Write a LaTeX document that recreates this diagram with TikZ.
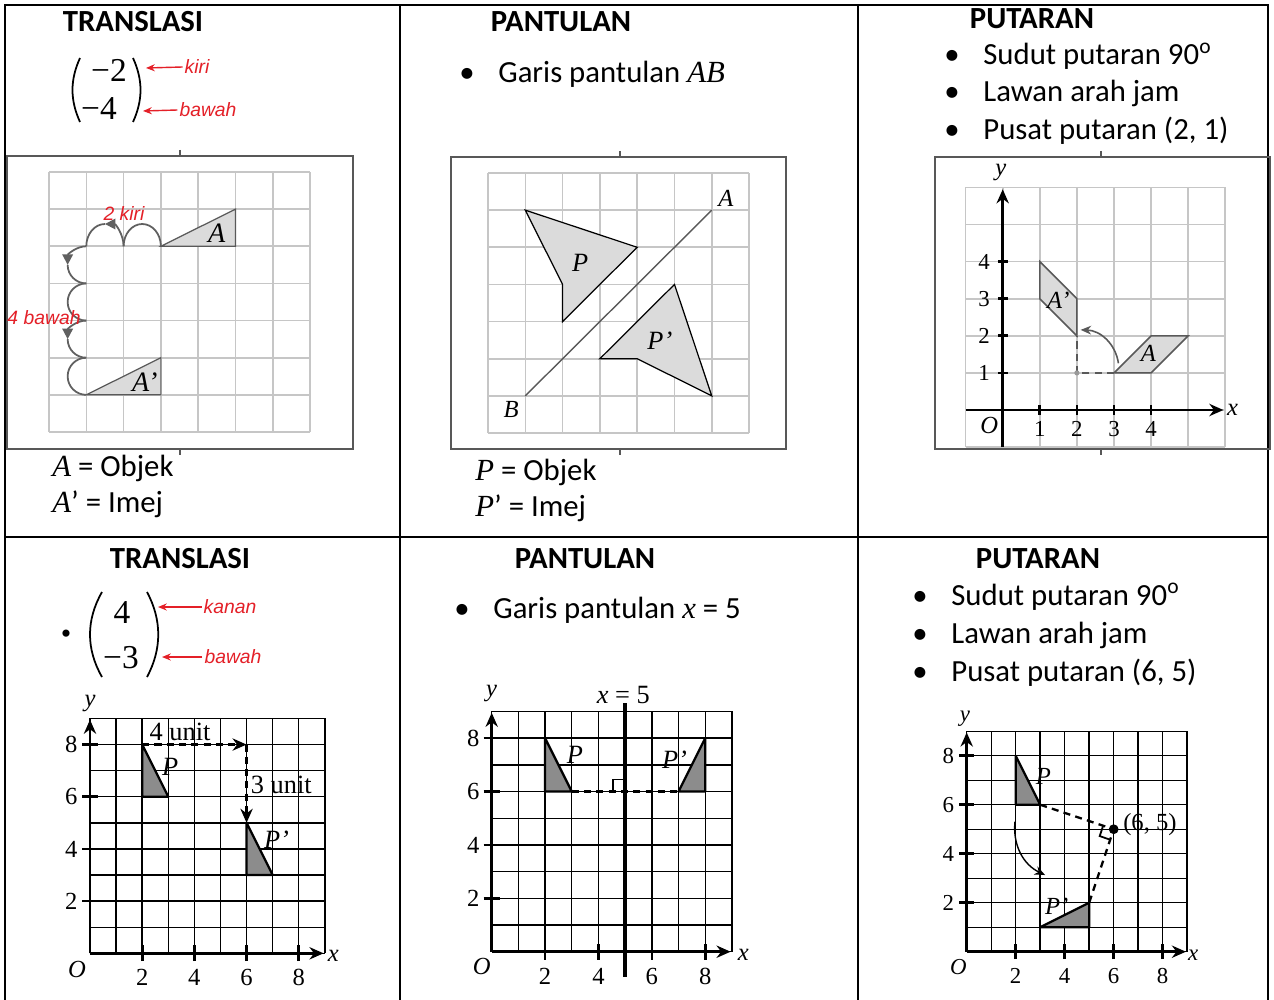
\documentclass[tikz,border=0pt]{standalone}
\usepackage{fontspec}
\setmainfont{Carlito}
\newfontfamily\serifmath{Liberation Serif}
\newfontfamily\handink{Liberation Sans}
\usepackage{tikz}
\usetikzlibrary{positioning, arrows.meta}
\definecolor{inkred}{RGB}{228,32,40}
\definecolor{boxgray}{RGB}{88,88,88}
\newcommand{\sym}[1]{{\serifmath\itshape #1}}

\begin{document}
\begin{tikzpicture}[
    x=0.02cm, y=-0.02cm,
    cell/.style={draw=black, line width=1.1pt},
    head/.style={font=\fontsize{17.5}{20}\selectfont\bfseries, anchor=base, inner sep=0pt},
    txt/.style={font=\fontsize{17.5}{20}\selectfont, anchor=base west, inner sep=0pt},
    bul/.style={font=\fontsize{17.5}{20}\selectfont, anchor=base, inner sep=0pt},
    mnum/.style={font=\fontsize{19}{22}\selectfont\serifmath, anchor=base, inner sep=0pt},
    paren/.style={draw=black, line width=1pt},
    hand/.style={font=\fontsize{11}{13}\selectfont\handink\itshape, text=inkred, inner sep=1pt},
    inkarrow/.style={draw=inkred, line width=0.8pt, -{Stealth[length=5pt, width=4pt]}},
    imgbox/.style={draw=boxgray, line width=1.4pt},
    lgrid/.style={draw=gray!45, line width=0.9pt, step=1},
    dgrid/.style={draw=black, line width=0.8pt, step=1},
    lshape/.style={fill=gray!28, draw=black, line width=0.7pt},
    rshape/.style={fill=gray!28, draw=gray!70!black, line width=0.9pt},
    dshape/.style={fill=gray!90, draw=black, line width=1.3pt, line join=round},
    hop/.style={draw=gray!75!black, line width=1pt},
    hoptip/.style={hop, -{Triangle[length=6pt, width=6pt]}},
    axline/.style={draw=black, line width=1.5pt, -{Stealth[length=8pt, width=7pt]}},
    tickmk/.style={draw=black, line width=1.5pt},
    nlbl/.style={font=\fontsize{#1}{#1}\selectfont\serifmath, inner sep=0pt},
    nlbl/.default=13,
    glbl/.style={font=\fontsize{#1}{#1}\selectfont\serifmath\itshape, inner sep=0pt},
    glbl/.default=14,
    dline/.style={line width=1.3pt, dash pattern=on 4pt off 3pt},
    dasharr/.style={dline, -{Stealth[length=8pt, width=7pt]}}
]
\useasboundingbox (0,0) rectangle (1274,1000);
\fill[white] (0,0) rectangle (1274,1000);

% table
\draw[cell] (5,1000) -- (5,5) -- (1268,5) -- (1268,1000);
\draw[cell] (5,537) -- (1268,537);
\draw[cell] (400,5) -- (400,1000);
\draw[cell] (858,5) -- (858,1000);

%%% top left: translasi
\node[head] (tl_head) at (133,32) {TRANSLASI};
\node[mnum] (tl_m1) at (109,82) {−2};
\node[mnum] (tl_m2) at (99,120) {−4};
\draw[paren] (80,58) .. controls (70,80) and (70,100) .. (80,122);
\draw[paren] (133,58) .. controls (143,80) and (143,100) .. (133,122);
\node[hand] (tl_kiri) at (197,67) {kiri};
\node[hand] (tl_bawah) at (208,110) {bawah};
\coordinate (tl_pk) at (146,68);
\coordinate (tl_pb) at (143,111);
\draw[inkarrow] (tl_kiri.west) -- (tl_pk);
\draw[inkarrow] (tl_bawah.west) -- (tl_pb);

\draw[imgbox] (7,156) rectangle (353,449);
\draw[imgbox] (180,150) -- (180,156);
\draw[imgbox] (180,449) -- (180,455);
\begin{scope}[shift={(49,432)}, x=0.746cm, y=0.743cm]
  \draw[lgrid] (0,0) grid (7,7);
  \filldraw[lshape, draw=gray!70!black] (3,5) -- (5,6) -- (5,5) -- cycle;
  \filldraw[lshape, draw=gray!70!black] (1,1) -- (3,2) -- (3,1) -- cycle;
  \node[glbl=16] (tl_A) at (4.5,5.35) {A};
  \node[glbl=16] (tl_Ai) at (2.57,1.35) {A’};
  % hops: 2 left, 4 down
  \draw[hop] (3,5) arc[start angle=0, end angle=180, x radius=0.5, y radius=0.6];
  \draw[hoptip] (2,5) arc[start angle=0, end angle=90, x radius=0.5, y radius=0.6];
  \draw[hop] (1.5,5.6) arc[start angle=90, end angle=180, x radius=0.5, y radius=0.6];
  \foreach \k in {5,3}{
    \draw[hoptip] (1,\k) arc[start angle=90, end angle=180, radius=0.5];
    \draw[hop] (0.5,\k-0.5) arc[start angle=180, end angle=270, radius=0.5];
  }
  \foreach \k in {4,2}
    \draw[hop] (1,\k) arc[start angle=90, end angle=270, radius=0.5];
\end{scope}
\node[hand] (tl_2kiri) at (124,213) {2 kiri};
\node[hand] (tl_4bawah) at (44,318) {4 bawah};

\node[txt] (tl_obj) at (52,476) {\sym{A} = Objek};
\node[txt] (tl_img) at (52,512) {\sym{A}’ = Imej};

%%% top middle: pantulan
\node[head] (tm_head) at (561,32) {PANTULAN};
\node[bul] (tm_b) at (467,83) {•};
\node[txt] (tm_t) at (498,83) {Garis pantulan \sym{AB}};

\draw[imgbox] (451,157) rectangle (786,449);
\draw[imgbox] (620,151) -- (620,157);
\draw[imgbox] (620,449) -- (620,455);
\begin{scope}[shift={(488,433)}, x=0.746cm, y=0.743cm]
  \draw[lgrid] (0,0) grid (7,7);
  \coordinate (tm_B) at (1,1);
  \coordinate (tm_A) at (6,6);
  \draw[gray!70!black, line width=0.8pt] (tm_B) -- (tm_A);
  \filldraw[lshape] (1,6) -- (4,5) -- (2,3) -- (2,4) -- cycle;
  \filldraw[lshape] (6,1) -- (5,4) -- (3,2) -- (4,2) -- cycle;
  \node[glbl=14] (tm_Al) at (6.38,6.33) {A};
  \node[glbl=14] (tm_Bl) at (0.62,0.64) {B};
  \node[glbl=15] (tm_P) at (2.47,4.58) {P};
  \node[glbl=15] (tm_Pi) at (4.61,2.49) {P’};
\end{scope}

\node[txt] (tm_obj) at (475,480) {\sym{P} = Objek};
\node[txt] (tm_img) at (475,516) {\sym{P}’ = Imej};

%%% top right: putaran
\node[head] (tr_head) at (1032,29) {PUTARAN};
\foreach \yb/\line in {65/{Sudut putaran 90\textsuperscript{o}},
                      102/{Lawan arah jam},
                      140/{Pusat putaran (2, 1)}}{
  \node[bul] at (952,\yb) {•};
  \node[txt] at (983,\yb) {\line};
}

\draw[imgbox] (935,157) rectangle (1270,449);
\draw[imgbox] (1101,151) -- (1101,157);
\draw[imgbox] (1101,449) -- (1101,455);
\begin{scope}[shift={(1002.7,410)}, x=0.742cm, y=0.742cm]
  \draw[lgrid] (-1,-1) grid (6,6);
  \draw[axline] (-1,0) -- (5.95,0);
  \draw[axline] (0,-1) -- (0,5.95);
  \foreach \k in {1,...,4}{
    \draw[tickmk] (\k,-0.13) -- (\k,0.13);
    \draw[tickmk] (-0.13,\k) -- (0.13,\k);
    \node[nlbl=13] at (\k,-0.52) {\k};
    \node[nlbl=13] at (-0.5,\k) {\k};
  }
  \node[glbl=14] (tr_O) at (-0.36,-0.42) {O};
  \node[glbl=14] (tr_x) at (6.2,0) {x};
  \node[glbl=14] (tr_y) at (-0.05,6.4) {y};
  \filldraw[rshape] (3,1) -- (4,2) -- (5,2) -- (4,1) -- cycle;
  \filldraw[rshape] (2,2) -- (2,3) -- (1,4) -- (1,3) -- cycle;
  \coordinate (tr_c) at (2,1);
  \draw[dline, line width=1pt, gray!70!black] (3,1) -- (tr_c) -- (2,2);
  \fill[gray!80] (tr_c) circle[radius=0.07];
  \coordinate (tr_s) at (3.12,1.26);
  \coordinate (tr_e) at (2.1,2.16);
  \draw[gray!70!black, line width=0.9pt, -{Stealth[length=6pt, width=5pt]}]
       (tr_s) to[bend right=40] (tr_e);
  \node[glbl=14] (tr_A) at (3.93,1.53) {A};
  \node[glbl=14] (tr_Ai) at (1.5,2.96) {A’};
\end{scope}

%%% bottom left: translasi
\node[head] (bl_head) at (180,568) {TRANSLASI};
\node[bul, font=\fontsize{17}{20}\selectfont\serifmath] (bl_b) at (66,643) {•};
\node[mnum] (bl_m1) at (122,623) {4};
\node[mnum] (bl_m2) at (121,668) {−3};
\draw[paren] (102,592) .. controls (86,620) and (86,649) .. (102,677);
\draw[paren] (147,592) .. controls (162,620) and (162,649) .. (147,677);
\node[hand] (bl_kanan) at (230,607) {kanan};
\node[hand] (bl_bawah) at (233,657) {bawah};
\coordinate (bl_pk) at (158,607);
\coordinate (bl_pb) at (162,657);
\draw[inkarrow] (bl_kanan.west) -- (bl_pk);
\draw[inkarrow] (bl_bawah.west) -- (bl_pb);

\begin{scope}[shift={(90,953.3)}, x=0.522cm, y=0.522cm]
  \draw[dgrid] (0,0) grid (9,9);
  \draw[axline] (0,0) -- (8.95,0);
  \draw[axline] (0,0) -- (0,8.95);
  \foreach \k in {2,4,6,8}{
    \draw[tickmk] (\k,-0.3) -- (\k,0.3);
    \draw[tickmk] (-0.3,\k) -- (0.3,\k);
    \node[nlbl=14] at (\k,-0.92) {\k};
    \node[nlbl=14] at (-0.72,\k) {\k};
  }
  \node[glbl=14] (bl_O) at (-0.5,-0.62) {O};
  \node[glbl=14] (bl_x) at (9.32,-0.1) {x};
  \node[glbl=14] (bl_y) at (0,9.58) {y};
  \filldraw[dshape] (2,6) -- (2,8) -- (3,6) -- cycle;
  \filldraw[dshape] (6,3) -- (6,5) -- (7,3) -- cycle;
  \coordinate (bl_p) at (2,8);
  \coordinate (bl_c) at (6,8);
  \coordinate (bl_q) at (6,5);
  \draw[dasharr] (bl_p) -- (bl_c);
  \draw[dasharr] (bl_c) -- (bl_q);
  \node[nlbl=15] (bl_u4) at (3.45,8.5) {4 unit};
  \node[nlbl=15] (bl_u3) at (7.33,6.47) {3 unit};
  \node[glbl=15] (bl_P) at (3.07,7.15) {P};
  \node[glbl=15] (bl_Pi) at (7.15,4.34) {P’};
\end{scope}

%%% bottom middle: pantulan
\node[head] (bm_head) at (585,568) {PANTULAN};
\node[bul] (bm_b) at (462,618) {•};
\node[txt] (bm_t) at (493,618) {Garis pantulan \sym{x} = 5};

\begin{scope}[shift={(491.7,951.7)}, x=0.534cm, y=0.534cm]
  \draw[dgrid] (0,0) grid (9,9);
  \draw[axline] (0,0) -- (8.95,0);
  \draw[axline] (0,0) -- (0,8.95);
  \foreach \k in {2,4,6,8}{
    \draw[tickmk] (\k,-0.3) -- (\k,0.3);
    \draw[tickmk] (-0.3,\k) -- (0.3,\k);
    \node[nlbl=14] at (\k,-0.94) {\k};
    \node[nlbl=14] at (-0.69,\k) {\k};
  }
  \node[glbl=14] (bm_O) at (-0.37,-0.56) {O};
  \node[glbl=14] (bm_x) at (9.43,-0.12) {x};
  \node[glbl=14] (bm_y) at (0,9.67) {y};
  \coordinate (bm_lo) at (5,-0.94);
  \coordinate (bm_hi) at (5,9.3);
  \draw[line width=2pt] (bm_lo) -- (bm_hi);
  \node[nlbl=15] (bm_eq) at (4.93,9.62) {\sym{x} = 5};
  \filldraw[dshape] (2,6) -- (2,8) -- (3,6) -- cycle;
  \filldraw[dshape] (8,6) -- (8,8) -- (7,6) -- cycle;
  \coordinate (bm_p) at (3,6);
  \coordinate (bm_q) at (7,6);
  \draw[dline] (bm_p) -- (bm_q);
  \draw[line width=1pt] (4.55,6) -- (4.55,6.45) -- (5,6.45);
  \node[glbl=15] (bm_P) at (3.12,7.37) {P};
  \node[glbl=15] (bm_Pi) at (6.85,7.18) {P’};
\end{scope}

%%% bottom right: putaran
\node[head] (br_head) at (1038,568) {PUTARAN};
\foreach \yb/\line in {605/{Sudut putaran 90\textsuperscript{o}},
                      643/{Lawan arah jam},
                      681/{Pusat putaran (6, 5)}}{
  \node[bul] at (920,\yb) {•};
  \node[txt] at (951,\yb) {\line};
}

\begin{scope}[shift={(966.7,951.7)}, x=0.49cm, y=0.49cm]
  \draw[dgrid] (0,0) grid (9,9);
  \draw[axline] (0,0) -- (8.95,0);
  \draw[axline] (0,0) -- (0,8.95);
  \foreach \k in {2,4,6,8}{
    \draw[tickmk] (\k,-0.3) -- (\k,0.3);
    \draw[tickmk] (-0.3,\k) -- (0.3,\k);
    \node[nlbl=13] at (\k,-1.0) {\k};
    \node[nlbl=13] at (-0.75,\k) {\k};
  }
  \node[glbl=13] (br_O) at (-0.34,-0.61) {O};
  \node[glbl=13] (br_x) at (9.25,-0.13) {x};
  \node[glbl=13] (br_y) at (-0.07,9.53) {y};
  \filldraw[dshape] (2,6) -- (2,8) -- (3,6) -- cycle;
  \filldraw[dshape] (5,1) -- (3,1) -- (5,2) -- cycle;
  \coordinate (br_p) at (3,6);
  \coordinate (br_c) at (6,5);
  \coordinate (br_q) at (5,2);
  \draw[dline] (br_p) -- (br_c) -- (br_q);
  \draw[line width=1pt] (5.57,5.14) -- (5.43,4.72) -- (5.86,4.57);
  \fill (br_c) circle[radius=0.2];
  \node[nlbl=14] (br_cl) at (7.48,5.17) {(6, 5)};
  \coordinate (br_s) at (1.97,5.31);
  \coordinate (br_e) at (3.2,3.13);
  \draw[line width=0.8pt, -{Stealth[length=6pt, width=5pt]}] (br_s) to[bend right=35] (br_e);
  \node[glbl=14] (br_P) at (3.13,7.14) {P};
  \node[glbl=14] (br_Pi) at (3.67,1.84) {P’};
\end{scope}
\end{tikzpicture}
\end{document}
